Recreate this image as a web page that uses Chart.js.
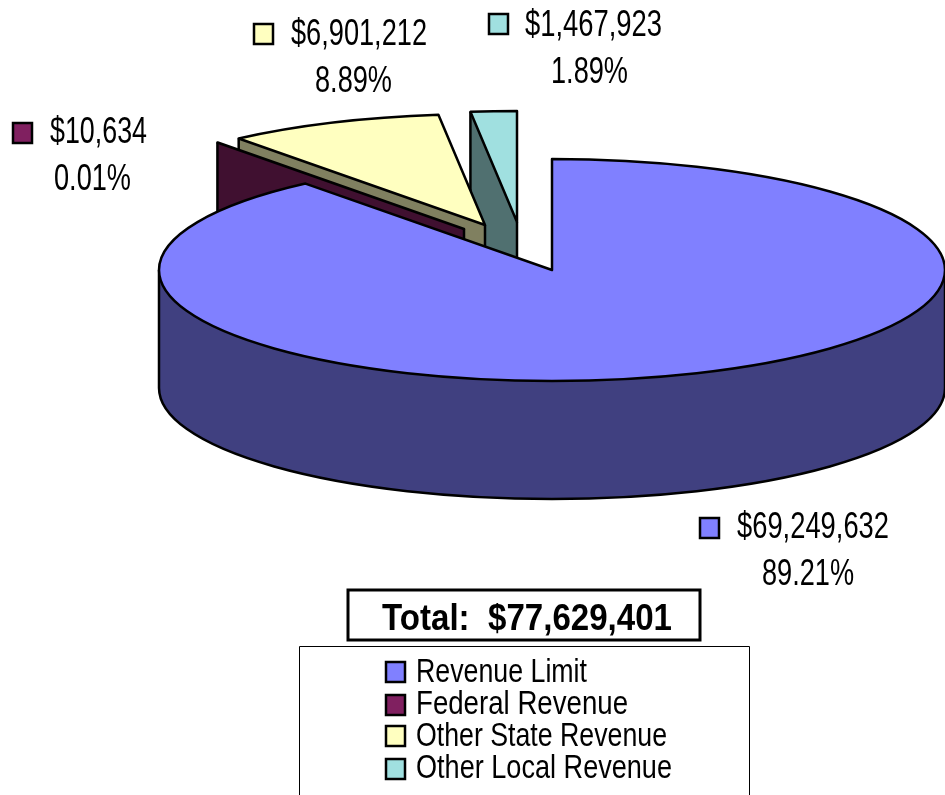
<!DOCTYPE html>
<html>
<head>
<meta charset="utf-8">
<title>Revenue</title>
<script src="https://cdn.jsdelivr.net/npm/chart.js@4/dist/chart.umd.min.js"></script>
<style>
    html, body { margin: 0; padding: 0; background: #fff; overflow: hidden; }
    #wrap { width: 945px; height: 795px; }
</style>
</head>
<body>
<div id="wrap"><canvas id="revenue-chart" width="945" height="795"></canvas></div>
<script>
const categories = ['Revenue Limit', 'Federal Revenue', 'Other State Revenue', 'Other Local Revenue'];
const revenue = [69249632, 10634, 6901212, 1467923];
const amountLabels = ['$69,249,632', '$10,634', '$6,901,212', '$1,467,923'];
const percentLabels = ['89.21%', '0.01%', '8.89%', '1.89%'];
const totalLabel = 'Total:  $77,629,401';

const topColors = ['#8080ff', '#802060', '#ffffc0', '#a0e0e0'];
const wallColors = ['#404080', '#401030', '#808060', '#507070'];

// how the flat pie is laid over to look 3D
const squash = 0.2824;
const depth = 118;
const centerY = 270;
// pull-out of each slice on screen
const explode = [[0, 0], [-88, -41], [-67, -45], [-35, -48]];
const drawOrder = [3, 2, 1, 0];

// callout and legend placement
const callouts = [
    { box: [700, 518], ax: 737, aw: 152, ay: 538, px: 762, pw: 92, py: 585 },
    { box: [13, 123], ax: 50, aw: 97, ay: 143, px: 54, pw: 77, py: 190 },
    { box: [254, 24], ax: 291, aw: 136, ay: 45, px: 315, pw: 77, py: 92 },
    { box: [489, 14], ax: 525, aw: 137, ay: 36, px: 551, pw: 77, py: 83 }
];
const legendRows = [
    { y: 662, base: 682, w: 171 },
    { y: 695, base: 714, w: 212 },
    { y: 726, base: 746, w: 251 },
    { y: 759, base: 778, w: 256 }
];

function sectorPath(ctx, arc, dx, dy) {
    const cx = arc.x + dx;
    const cy = centerY + dy;
    ctx.beginPath();
    ctx.moveTo(cx, cy);
    ctx.ellipse(cx, cy, arc.outerRadius, arc.outerRadius * squash, 0, arc.startAngle, arc.endAngle);
    ctx.closePath();
}

function rimPoint(arc, dx, dy, a) {
    return [arc.x + dx + Math.cos(a) * arc.outerRadius, centerY + dy + Math.sin(a) * arc.outerRadius * squash];
}

function drawWalls(ctx, arc, dx, dy) {
    const r = arc.outerRadius;
    const cx = arc.x + dx;
    const cy = centerY + dy;

    // floor of the slice
    sectorPath(ctx, arc, dx, dy + depth);
    ctx.fill();

    // the two cut faces
    [arc.startAngle, arc.endAngle].forEach(a => {
        const p = rimPoint(arc, dx, dy, a);
        ctx.beginPath();
        ctx.moveTo(cx, cy);
        ctx.lineTo(p[0], p[1]);
        ctx.lineTo(p[0], p[1] + depth);
        ctx.lineTo(cx, cy + depth);
        ctx.closePath();
        ctx.fill();
    });

    // outer band, front half only
    const from = Math.max(arc.startAngle, 0);
    const to = Math.min(arc.endAngle, Math.PI);
    if (to > from) {
        ctx.beginPath();
        ctx.ellipse(cx, cy, r, r * squash, 0, from, to);
        ctx.ellipse(cx, cy + depth, r, r * squash, 0, to, from, true);
        ctx.closePath();
        ctx.fill();
    }
}

function drawEdges(ctx, arc, dx, dy) {
    const r = arc.outerRadius;
    const cx = arc.x + dx;
    const cy = centerY + dy;
    ctx.beginPath();
    // only the front half of the bottom rim can be seen
    const from = Math.max(arc.startAngle, 0);
    const to = Math.min(arc.endAngle, Math.PI);
    if (to > from) ctx.ellipse(cx, cy + depth, r, r * squash, 0, from, to);

    // upright edges at the left and right limits of the slice
    const pts = [[cx, cy], rimPoint(arc, dx, dy, arc.startAngle), rimPoint(arc, dx, dy, arc.endAngle)];
    if (arc.startAngle < Math.PI && arc.endAngle > Math.PI) pts.push(rimPoint(arc, dx, dy, Math.PI));
    if (arc.startAngle < 0 && arc.endAngle > 0) pts.push(rimPoint(arc, dx, dy, 0));
    pts.sort((a, b) => a[0] - b[0]);
    [pts[0], pts[pts.length - 1]].forEach(p => {
        ctx.moveTo(p[0], p[1]);
        ctx.lineTo(p[0], p[1] + depth);
    });
    ctx.stroke();
}

function drawSlice(ctx, arc, i) {
    const dx = explode[i][0];
    const dy = explode[i][1];

    ctx.fillStyle = wallColors[i];
    drawWalls(ctx, arc, dx, dy);
    drawEdges(ctx, arc, dx, dy);

    // top face comes from the library's own arc element
    ctx.save();
    ctx.translate(arc.x + dx, centerY + dy);
    ctx.scale(1, squash);
    ctx.translate(-arc.x, -arc.y);
    arc.draw(ctx);
    ctx.restore();

    sectorPath(ctx, arc, dx, dy);
    ctx.stroke();
}

function swatch(ctx, x, y, color) {
    ctx.fillStyle = color;
    ctx.fillRect(x, y, 19, 20);
    ctx.strokeStyle = '#000';
    ctx.lineWidth = 2.5;
    ctx.strokeRect(x, y, 19, 20);
}

const pie3d = {
    id: 'pie3d',
    beforeDatasetsDraw(chart) {
        const ctx = chart.ctx;
        const arcs = chart.getDatasetMeta(0).data;
        ctx.save();
        ctx.lineJoin = 'round';
        drawOrder.forEach(i => {
            ctx.strokeStyle = '#000';
            ctx.lineWidth = 2.5;
            drawSlice(ctx, arcs[i], i);
        });
        ctx.restore();
        return false;
    },
    afterDraw(chart) {
        const ctx = chart.ctx;
        ctx.save();
        ctx.textAlign = 'left';
        ctx.textBaseline = 'alphabetic';

        // callouts
        ctx.font = '36px "Liberation Sans Narrow", "Liberation Sans"';
        callouts.forEach((c, i) => {
            swatch(ctx, c.box[0], c.box[1], topColors[i]);
            ctx.fillStyle = '#000';
            ctx.fillText(amountLabels[i], c.ax, c.ay, c.aw);
            ctx.fillText(percentLabels[i], c.px, c.py, c.pw);
        });

        // total box
        ctx.fillStyle = '#fff';
        ctx.fillRect(348, 590, 352, 50);
        ctx.strokeStyle = '#000';
        ctx.lineWidth = 3;
        ctx.strokeRect(348, 590, 352, 50);
        ctx.fillStyle = '#000';
        ctx.font = 'bold 36px "Liberation Sans"';
        ctx.fillText(totalLabel, 382, 630, 290);

        // legend box runs off the bottom of the page
        ctx.lineWidth = 1;
        ctx.beginPath();
        ctx.moveTo(299.5, 795);
        ctx.lineTo(299.5, 646.5);
        ctx.lineTo(749.5, 646.5);
        ctx.lineTo(749.5, 795);
        ctx.stroke();
        ctx.font = '34px "Liberation Sans Narrow", "Liberation Sans"';
        legendRows.forEach((row, i) => {
            swatch(ctx, 386, row.y, topColors[i]);
            ctx.fillStyle = '#000';
            ctx.fillText(categories[i], 416, row.base, row.w);
        });
        ctx.restore();
    }
};

new Chart(document.getElementById('revenue-chart').getContext('2d'), {
    type: 'pie',
    data: {
        labels: categories,
        datasets: [{
            data: revenue,
            backgroundColor: topColors,
            borderWidth: 0
        }]
    },
    options: {
        responsive: false,
        animation: false,
        radius: 393,
        layout: { padding: { left: 159 } },
        plugins: {
            legend: { display: false },
            tooltip: { enabled: false }
        }
    },
    plugins: [pie3d]
});
</script>
</body>
</html>
